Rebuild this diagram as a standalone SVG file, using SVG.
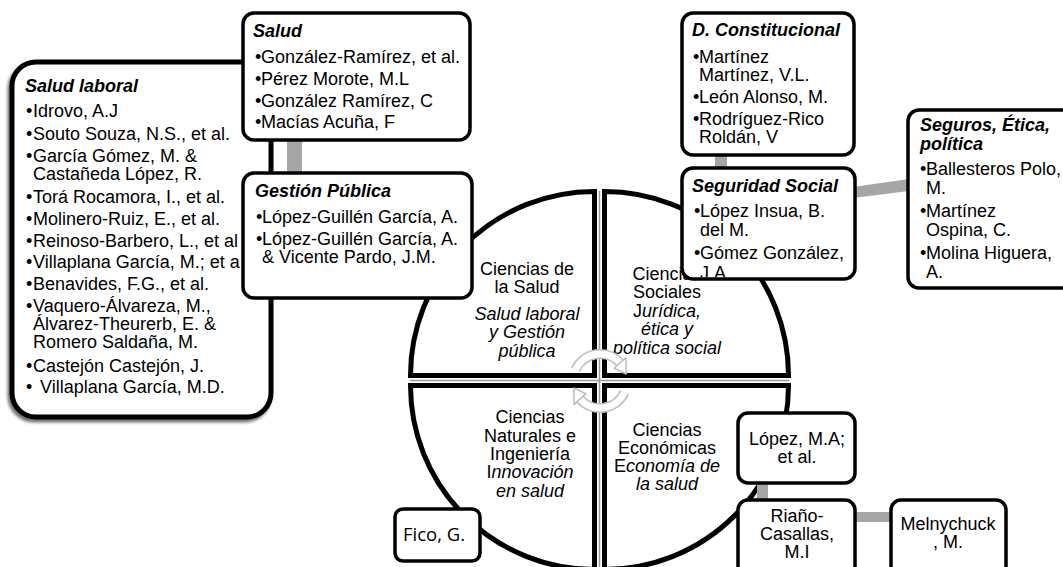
<svg xmlns="http://www.w3.org/2000/svg" width="1063" height="567" viewBox="0 0 1063 567">
<style>
text{font-family:"Liberation Sans",Arial,sans-serif;font-size:18px;fill:#000}
.t{font-weight:bold;font-style:italic}
.i{font-style:italic}
.c{text-anchor:middle}
.box{fill:#fff;stroke:#000;stroke-width:3.5}
.q{fill:#fff;stroke:#000;stroke-width:5;stroke-linejoin:miter}
.bar{fill:#a6a6a6}
.fico{font-family:"Open Sans","Noto Sans",sans-serif;font-size:18.5px}
.arw{fill:#fff;stroke:#bdbdbd;stroke-width:1.5;stroke-linejoin:round}
</style>
<defs>
<filter id="sh" x="-10%" y="-10%" width="120%" height="120%">
<feDropShadow dx="-2" dy="3" stdDeviation="1.5" flood-color="#000" flood-opacity="0.55"/>
</filter>
<clipPath id="cs"><rect x="684" y="170" width="169" height="107"/></clipPath>
</defs>
<rect width="1063" height="567" fill="#fff"/>

<g id="pie">
<path class="q" d="M594.5,375.5 L410.5,375.5 A184,184 0 0 1 594.5,191.5 Z"/>
<path class="q" d="M604.5,375.5 L604.5,191.5 A184,184 0 0 1 788.5,375.5 Z"/>
<path class="q" d="M604.5,385.5 L788.5,385.5 A184,184 0 0 1 604.5,569.5 Z"/>
<path class="q" d="M594.5,385.5 L594.5,569.5 A184,184 0 0 1 410.5,385.5 Z"/>
<line x1="599.5" y1="191" x2="599.5" y2="567" stroke="#9a9a9a" stroke-width="1.5"/>
<line x1="410" y1="380.5" x2="789" y2="380.5" stroke="#9a9a9a" stroke-width="1.5"/>
<text class="c" x="527" y="275">Ciencias de</text>
<text class="c" x="527" y="293">la Salud</text>
<text class="c i" x="527" y="320">Salud laboral</text>
<text class="c i" x="527" y="338">y Gestión</text>
<text class="c i" x="527" y="357">pública</text>
<text class="c" x="667" y="280">Ciencias</text>
<text class="c" x="667" y="298">Sociales</text>
<text class="c" x="667" y="317">J<tspan class="i">urídica,</tspan></text>
<text class="c i" x="667" y="335">ética y</text>
<text class="c i" x="667" y="354">política social</text>
<text class="c" x="530" y="423">Ciencias</text>
<text class="c" x="530" y="442">Naturales e</text>
<text class="c" x="530" y="460">Ingeniería</text>
<text class="c" x="530" y="478">I<tspan class="i">nnovación</tspan></text>
<text class="c i" x="530" y="497">en salud</text>
<text class="c" x="667" y="436">Ciencias</text>
<text class="c" x="667" y="454">Económicas</text>
<text class="c" x="667" y="472">E<tspan class="i">conomía de</tspan></text>
<text class="c i" x="667" y="490">la salud</text>
<g id="cycle" fill="none">
<path d="M575.5,369.6 A27,27 0 0 1 620.1,362.9" stroke="#bdbdbd" stroke-width="10"/>
<path d="M575.5,369.6 A27,27 0 0 1 620.1,362.9" stroke="#fff" stroke-width="7"/>
<polygon class="arw" points="614.1,368.3 626.0,357.6 626.1,374.0"/>
<path d="M624.5,392.4 A27,27 0 0 1 579.9,399.1" stroke="#bdbdbd" stroke-width="10"/>
<path d="M624.5,392.4 A27,27 0 0 1 579.9,399.1" stroke="#fff" stroke-width="7"/>
<polygon class="arw" points="585.9,393.7 574.0,404.4 573.9,388.0"/>
</g>
</g>

<g id="connectors">
<rect class="bar" x="287" y="139" width="15" height="36"/>
<rect class="bar" x="715" y="154" width="12" height="16"/>
<polygon class="bar" points="853,187 909,179 909,191 853,198"/>
<rect class="bar" x="757" y="482" width="11" height="19"/>
<rect class="bar" x="854" y="512" width="38" height="10"/>
</g>

<g id="salud-laboral">
<rect x="12" y="62" width="259" height="355" rx="24" fill="#fff" stroke="#000" stroke-width="5" filter="url(#sh)"/>
<text class="t" x="25" y="92">Salud laboral</text>
<text x="26" y="117">•</text><text x="33" y="117">Idrovo, A.J</text>
<text x="26" y="140">•</text><text x="33" y="140">Souto Souza, N.S., et al.</text>
<text x="26" y="162">•</text><text x="33" y="162">García Gómez, M. &amp;</text>
<text x="33" y="180">Castañeda López, R.</text>
<text x="26" y="203">•</text><text x="33" y="203">Torá Rocamora, I., et al.</text>
<text x="26" y="225">•</text><text x="33" y="225">Molinero-Ruiz, E., et al.</text>
<text x="26" y="247">•</text><text x="33" y="247">Reinoso-Barbero, L., et al</text>
<text x="26" y="268">•</text><text x="33" y="268">Villaplana García, M.; et a</text>
<text x="26" y="290">•</text><text x="33" y="290">Benavides, F.G., et al.</text>
<text x="26" y="312">•</text><text x="33" y="312">Vaquero-Álvareza, M.,</text>
<text x="33" y="330">Álvarez-Theurerb, E. &amp;</text>
<text x="33" y="348">Romero Saldaña, M.</text>
<text x="26" y="372">•</text><text x="33" y="372">Castejón Castejón, J.</text>
<text x="26" y="393">•</text><text x="40" y="393">Villaplana García, M.D.</text>
</g>

<g id="salud">
<rect class="box" x="243" y="13" width="227" height="127" rx="11"/>
<text class="t" x="253" y="37">Salud</text>
<text x="255" y="63">•</text><text x="261" y="63">González-Ramírez, et al.</text>
<text x="255" y="85">•</text><text x="261" y="85">Pérez Morote, M.L</text>
<text x="255" y="107">•</text><text x="261" y="107">González Ramírez, C</text>
<text x="255" y="128">•</text><text x="261" y="128">Macías Acuña, F</text>
</g>

<g id="gestion-publica">
<rect class="box" x="243" y="173" width="229" height="125" rx="11"/>
<text class="t" x="255" y="197">Gestión Pública</text>
<text x="256" y="223">•</text><text x="262" y="223">López-Guillén García, A.</text>
<text x="256" y="245">•</text><text x="262" y="245">López-Guillén García, A.</text>
<text x="262" y="263">&amp; Vicente Pardo, J.M.</text>
</g>

<g id="d-constitucional">
<rect class="box" x="682" y="13" width="172" height="142" rx="11"/>
<text class="t" x="692" y="36">D. Constitucional</text>
<text x="693" y="63">•</text><text x="699" y="63">Martínez</text>
<text x="699" y="81">Martínez, V.L.</text>
<text x="693" y="103">•</text><text x="699" y="103">León Alonso, M.</text>
<text x="693" y="125">•</text><text x="699" y="125">Rodríguez-Rico</text>
<text x="699" y="143">Roldán, V</text>
</g>

<g id="seguridad-social">
<rect x="682" y="168" width="173" height="111" rx="11" fill="#fff"/>
<g clip-path="url(#cs)">
<text class="t" x="692" y="192">Seguridad Social</text>
<text x="694" y="217">•</text><text x="700" y="217">López Insua, B.</text>
<text x="700" y="236">del M.</text>
<text x="694" y="259">•</text><text x="700" y="259">Gómez González,</text>
<text x="700" y="279">J.A</text>
</g>
<rect x="682" y="168" width="173" height="111" rx="11" fill="none" stroke="#000" stroke-width="3.5"/>
</g>

<g id="seguros">
<rect class="box" x="908" y="110" width="170" height="178" rx="11"/>
<text class="t" x="920" y="131">Seguros, Ética,</text>
<text class="t" x="920" y="150">política</text>
<text x="920" y="175">•</text><text x="926" y="175">Ballesteros Polo,</text>
<text x="926" y="194">M.</text>
<text x="920" y="217">•</text><text x="926" y="217">Martínez</text>
<text x="926" y="236">Ospina, C.</text>
<text x="920" y="259">•</text><text x="926" y="259">Molina Higuera,</text>
<text x="926" y="278">A.</text>
</g>

<g id="lopez">
<rect class="box" x="738" y="413" width="117" height="70" rx="10"/>
<text class="c" x="797" y="445">López, M.A;</text>
<text class="c" x="797" y="463">et al.</text>
</g>

<g id="riano">
<rect class="box" x="738" y="500" width="117" height="80" rx="10"/>
<text class="c" x="797" y="522">Riaño-</text>
<text class="c" x="797" y="540">Casallas,</text>
<text class="c" x="797" y="558">M.I</text>
</g>

<g id="melnychuck">
<rect class="box" x="891" y="500" width="115" height="80" rx="10"/>
<text class="c" x="948" y="530">Melnychuck</text>
<text class="c" x="948" y="548">, M.</text>
</g>

<g id="fico">
<rect class="box" x="395" y="509" width="85" height="52" rx="8"/>
<text class="fico" x="403" y="541">Fico, G.</text>
</g>
</svg>
